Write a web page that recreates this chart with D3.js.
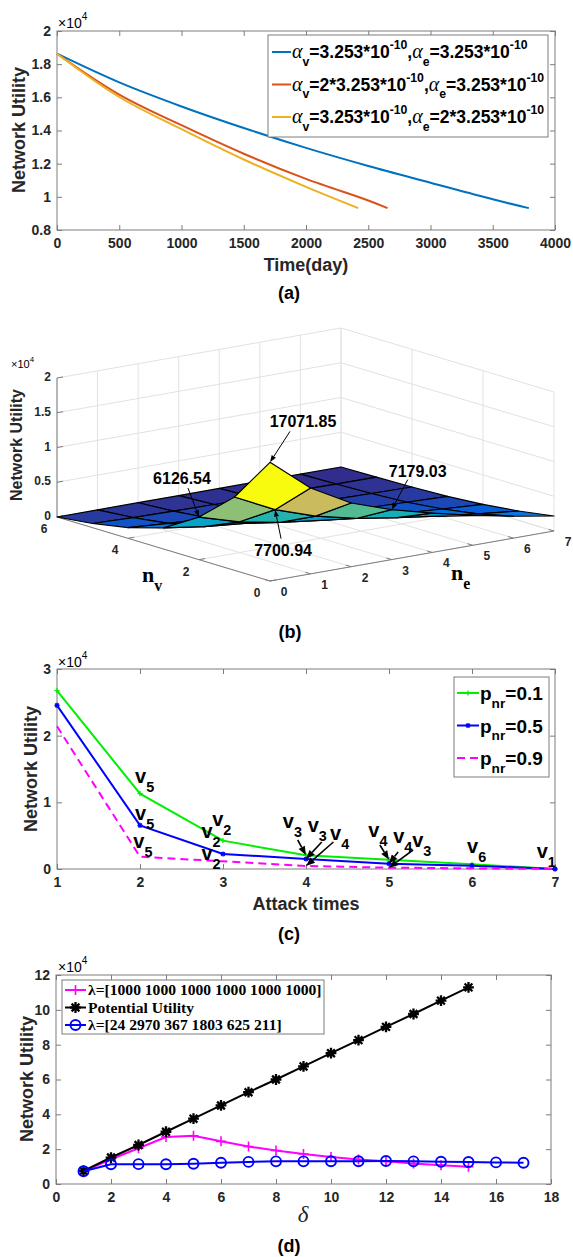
<!DOCTYPE html>
<html>
<head>
<meta charset="utf-8">
<script src="https://cdn.jsdelivr.net/npm/d3@7/dist/d3.min.js"></script>
<style>
  html, body { margin: 0; padding: 0; background: #fff; }
  svg { display: block; }
</style>
</head>
<body>
<svg id="fig" width="573" height="1257" xmlns="http://www.w3.org/2000/svg"></svg>
<script>
// ---------- (a) network utility over time ----------
const daysBlue   = [0, 500, 1000, 1500, 2000, 2500, 3000, 3500, 3790];
const utilBlue   = [18630, 16900, 15450, 14150, 12950, 11860, 10850, 9850, 9320];
const daysRed    = [0, 500, 1000, 1500, 2000, 2500, 2655];
const utilRed    = [18630, 16170, 14320, 12600, 11080, 9780, 9320];
const daysYellow = [0, 500, 1000, 1500, 2000, 2420];
const utilYellow = [18630, 16020, 14080, 12250, 10600, 9320];
const timeTicks  = [0, 500, 1000, 1500, 2000, 2500, 3000, 3500, 4000];
const utilTicksA = [8000, 10000, 12000, 14000, 16000, 18000, 20000];

// ---------- (b) utility surface over (n_v, n_e) ----------
const nvValues = [0, 1, 2, 3, 4, 5, 6];
const neValues = [0, 1, 2, 3, 4, 5, 6, 7];
const utilSurface = [
  [17071.85, 12360, 9170, 7179.03, 5650, 4300, 3150, 2160],
  [10550, 7700.94, 5750, 4380, 3470, 2650, 1950, 1340],
  [6126.54, 4420, 3300, 2560, 2000, 1520, 1120, 770],
  [3050, 2200, 1640, 1280, 1000, 760, 560, 385],
  [1550, 1120, 830, 650, 510, 385, 285, 195],
  [600, 430, 320, 250, 195, 150, 110, 75],
  [0, 0, 0, 0, 0, 0, 0, 0]
];
const nvTicks = [0, 2, 4, 6];
const neTicks = [0, 1, 2, 3, 4, 5, 6, 7];
const zTicks  = [0, 5000, 10000, 15000, 20000];
// labelled surface points: [n_v, n_e]
const surfaceCallouts = [[0, 0], [2, 0], [0, 3], [1, 1]];
const parula = ['#352a87', '#0363e1', '#1485d4', '#06a7c6', '#38b99e', '#92bf73', '#d9ba56', '#fcce2e', '#f9fb0e'];

// ---------- (c) utility versus attack times ----------
const attackTimes = [1, 2, 3, 4, 5, 6, 7];
const utilP01 = [26750, 11300, 4250, 2050, 1400, 700, 0];
const utilP05 = [24550, 6550, 2250, 1500, 800, 500, 0];
const utilP09 = [21400, 1850, 1150, 450, 200, 100, 0];
const attackTicks = [1, 2, 3, 4, 5, 6, 7];
const utilTicksC = [0, 10000, 20000, 30000];
// attacked node index written next to points
const nodeNames = ['5', '5', '5', '2', '2', '2', '3', '3', '4', '4', '4', '3', '6', '1'];

// ---------- (d) utility versus delta ----------
const deltaEqual = [1, 2, 3, 4, 5, 6, 7, 8, 9, 10, 11, 12, 13, 14, 15];
const utilEqual = [7300, 14200, 20500, 27000, 27700, 24500, 21500, 19200, 17200, 15500, 14000, 13000, 11700, 10800, 9900];
const deltaPotential = [1, 2, 3, 4, 5, 6, 7, 8, 9, 10, 11, 12, 13, 14, 15];
const utilPotential = [7500, 15200, 22400, 30000, 37500, 45100, 52700, 60000, 67500, 75100, 82600, 90200, 97600, 105300, 112900];
const deltaTuned = [1, 2, 3, 4, 5, 6, 7, 8, 9, 10, 11, 12, 13, 14, 15, 16, 17];
const utilTuned = [7300, 11300, 11400, 11300, 11600, 12200, 12700, 13000, 13000, 13100, 13100, 13200, 13000, 12800, 12600, 12400, 12200];
const deltaTicks = [0, 2, 4, 6, 8, 10, 12, 14, 16, 18];
const utilTicksD = [0, 20000, 40000, 60000, 80000, 100000, 120000];

// ================= drawing =================
const SANS = "'Liberation Sans', Arial, Helvetica, sans-serif";
const SERIF = "'Liberation Serif', 'Times New Roman', serif";
const AXIS = '#7d7d7d';
const INK = '#262626';
const svg = d3.select('#fig');
svg.append('rect').attr('width', 573).attr('height', 1257).attr('fill', '#fff');

function txt(g, x, y, s, o = {}) {
  return g.append('text').attr('x', x).attr('y', y).text(s)
    .attr('font-family', o.family || SANS).attr('font-size', o.size || 14)
    .attr('font-weight', o.weight || 'bold').attr('font-style', o.style || 'normal')
    .attr('text-anchor', o.anchor || 'middle').attr('fill', o.fill || '#000');
}

function rich(g, x, y, parts, o) {
  const size = o.size;
  const t = g.append('text').attr('x', x).attr('y', y)
    .attr('font-family', o.family || SANS).attr('font-size', size)
    .attr('font-weight', o.weight || 'bold').attr('text-anchor', o.anchor || 'start').attr('fill', '#000');
  let cur = 0;
  parts.forEach(p => {
    const sp = t.append('tspan').text(p.t);
    let off = 0, fsz = p.size || size;
    if (p.k === 'sub') { off = size * (o.subShift || 0.42); fsz = size * (o.subScale || 0.72); }
    if (p.k === 'sup') { off = -size * (o.supShift || 0.5); fsz = size * (o.subScale || 0.72); }
    sp.attr('font-size', fsz).attr('dy', off - cur);
    cur = off;
    if (p.serif) sp.attr('font-family', SERIF);
    if (p.it) sp.attr('font-style', 'italic');
    if (p.w) sp.attr('font-weight', p.w);
  });
  return t;
}

function yLabel(g, cx, cy, s, size) {
  g.append('text').attr('transform', `translate(${cx},${cy}) rotate(-90)`).attr('dy', '0.35em')
    .attr('text-anchor', 'middle').attr('font-family', SANS).attr('font-size', size)
    .attr('font-weight', 'bold').attr('fill', INK).text(s);
}

function exponent(g, x, y) {
  rich(g, x, y, [{ t: '×10' }, { t: '4', k: 'sup' }], { size: 14, weight: 'normal', supShift: 0.55 });
}

function frame(g, xs, ys, xt, yt, xfmt, yfmt, fs) {
  const [xl, xr] = xs.range();
  const [yb, ytp] = ys.range();
  const mk = (axis, tr) => {
    const a = g.append('g').attr('transform', tr).call(axis);
    a.select('.domain').remove();
    a.selectAll('.tick line').attr('stroke', AXIS);
    a.selectAll('text').attr('font-family', SANS).attr('font-size', fs)
      .attr('font-weight', 'bold').attr('fill', INK);
  };
  const blank = () => '';
  mk(d3.axisBottom(xs).tickValues(xt).tickFormat(xfmt).tickSizeInner(-5).tickSizeOuter(0).tickPadding(8), `translate(0,${yb})`);
  mk(d3.axisTop(xs).tickValues(xt).tickFormat(blank).tickSizeInner(-5).tickSizeOuter(0), `translate(0,${ytp})`);
  mk(d3.axisLeft(ys).tickValues(yt).tickFormat(yfmt).tickSizeInner(-5).tickSizeOuter(0).tickPadding(6), `translate(${xl},0)`);
  mk(d3.axisRight(ys).tickValues(yt).tickFormat(blank).tickSizeInner(-5).tickSizeOuter(0), `translate(${xr},0)`);
  g.append('rect').attr('x', xl).attr('y', ytp).attr('width', xr - xl).attr('height', yb - ytp)
    .attr('fill', 'none').attr('stroke', AXIS).attr('stroke-width', 1);
}

const plusPath = (x, y, r) => `M${x - r},${y}H${x + r}M${x},${y - r}V${y + r}`;
const crossPath = (x, y, r) => `M${x - r},${y - r}L${x + r},${y + r}M${x - r},${y + r}L${x + r},${y - r}`;
const starPath = (x, y, r) => plusPath(x, y, r) + crossPath(x, y, r * 0.72);

function arrow(g, x1, y1, x2, y2, o) {
  const ang = Math.atan2(y2 - y1, x2 - x1);
  const bx = x2 - o.len * Math.cos(ang), by = y2 - o.len * Math.sin(ang);
  g.append('line').attr('x1', x1).attr('y1', y1).attr('x2', bx).attr('y2', by)
    .attr('stroke', '#000').attr('stroke-width', o.sw);
  const px = -Math.sin(ang) * o.wid / 2, py = Math.cos(ang) * o.wid / 2;
  g.append('path').attr('d', `M${x2},${y2}L${bx + px},${by + py}L${bx - px},${by - py}Z`).attr('fill', '#000');
}

const tenths = d => String(+(d / 1e4).toFixed(1));

// ---------------- panel (a) ----------------
{
  const g = svg.append('g');
  const x = d3.scaleLinear().domain([0, 4000]).range([57, 555]);
  const y = d3.scaleLinear().domain([8000, 20000]).range([230, 31]);
  frame(g, x, y, timeTicks, utilTicksA, d => d, tenths, 14);
  const line = d3.line().curve(d3.curveCatmullRom);
  const series = [
    [daysBlue, utilBlue, '#0072bd'],
    [daysRed, utilRed, '#d95319'],
    [daysYellow, utilYellow, '#edb120']
  ];
  series.forEach(([xs, ys, c]) => {
    g.append('path').attr('d', line(xs.map((d, i) => [x(d), y(ys[i])])))
      .attr('fill', 'none').attr('stroke', c).attr('stroke-width', 2);
  });
  exponent(g, 58, 28);
  yLabel(g, 19, 130, 'Network Utility', 18);
  txt(g, 306, 271, 'Time(day)', { size: 18, fill: INK });
  txt(g, 289, 299, '(a)', { size: 18 });

  // legend
  g.append('rect').attr('x', 268).attr('y', 35).attr('width', 280).attr('height', 102)
    .attr('fill', '#fff').attr('stroke', AXIS);
  const alpha = { t: 'α', serif: true, it: true, w: 'normal', size: 20 };
  const coef = '3.253*10';
  const entries = [
    [alpha, { t: 'v', k: 'sub' }, { t: '=' + coef }, { t: '-10', k: 'sup' }, { t: ',' }, alpha, { t: 'e', k: 'sub' }, { t: '=' + coef }, { t: '-10', k: 'sup' }],
    [alpha, { t: 'v', k: 'sub' }, { t: '=2*' + coef }, { t: '-10', k: 'sup' }, { t: ',' }, alpha, { t: 'e', k: 'sub' }, { t: '=' + coef }, { t: '-10', k: 'sup' }],
    [alpha, { t: 'v', k: 'sub' }, { t: '=' + coef }, { t: '-10', k: 'sup' }, { t: ',' }, alpha, { t: 'e', k: 'sub' }, { t: '=2*' + coef }, { t: '-10', k: 'sup' }]
  ];
  entries.forEach((parts, i) => {
    const ly = 52 + i * 32.5;
    g.append('line').attr('x1', 272).attr('x2', 291).attr('y1', ly).attr('y2', ly)
      .attr('stroke', series[i][2]).attr('stroke-width', 2);
    rich(g, 292, ly + 6, parts, { size: 17.5, subShift: 0.45, supShift: 0.5, subScale: 0.7 });
  });
}

// ---------------- panel (b) ----------------
{
  const g = svg.append('g');
  const nvX = d3.scaleLinear().domain([0, 6]).range([0, -213]);
  const nvY = d3.scaleLinear().domain([0, 6]).range([0, -64]);
  const neX = d3.scaleLinear().domain([0, 7]).range([0, 284]);
  const neY = d3.scaleLinear().domain([0, 7]).range([0, -50]);
  const zY = d3.scaleLinear().domain([0, 20000]).range([0, -139]);
  const ox = 270, oy = 581;
  const proj = (v, e, z) => [ox + nvX(v) + neX(e), oy + nvY(v) + neY(e) + zY(z)];
  const seg = (a, b, stroke, w) => g.append('line').attr('x1', a[0]).attr('y1', a[1])
    .attr('x2', b[0]).attr('y2', b[1]).attr('stroke', stroke).attr('stroke-width', w);
  const vMax = nvTicks[nvTicks.length - 1], eMax = neTicks[neTicks.length - 1], zMax = zTicks[zTicks.length - 1];
  const GRID = '#e2e2e2';

  // floor and back walls
  neTicks.forEach(e => seg(proj(0, e, 0), proj(vMax, e, 0), GRID, 1));
  nvTicks.forEach(v => seg(proj(v, 0, 0), proj(v, eMax, 0), GRID, 1));
  neTicks.forEach(e => seg(proj(vMax, e, 0), proj(vMax, e, zMax), GRID, 1));
  zTicks.forEach(z => seg(proj(vMax, 0, z), proj(vMax, eMax, z), GRID, 1));
  nvTicks.forEach(v => seg(proj(v, eMax, 0), proj(v, eMax, zMax), GRID, 1));
  zTicks.forEach(z => seg(proj(0, eMax, z), proj(vMax, eMax, z), GRID, 1));

  // axis lines and ticks
  seg(proj(vMax, 0, 0), proj(vMax, 0, zMax), AXIS, 1);
  seg(proj(0, 0, 0), proj(vMax, 0, 0), AXIS, 1);
  seg(proj(0, 0, 0), proj(0, eMax, 0), AXIS, 1);
  zTicks.forEach(z => seg(proj(vMax, 0, z), proj(vMax, 0.15, z), AXIS, 1));
  nvTicks.forEach(v => seg(proj(v, 0, 0), proj(v, 0.15, 0), AXIS, 1));
  neTicks.forEach(e => seg(proj(0, e, 0), proj(0.15, e, 0), AXIS, 1));

  zTicks.forEach(z => txt(g, 51, proj(vMax, 0, z)[1] + 3, tenths(z), { anchor: 'end', size: 12, fill: INK }));
  nvTicks.forEach(v => { const p = proj(v, 0, 0); txt(g, p[0] - 13, p[1] + 16, v, { size: 12, fill: INK }); });
  neTicks.forEach(e => { const p = proj(0, e, 0); txt(g, p[0] + 14, p[1] + 15, e, { size: 12, fill: INK }); });
  rich(g, 11, 368, [{ t: '×10' }, { t: '4', k: 'sup' }], { size: 11, weight: 'normal', supShift: 0.55 });
  yLabel(g, 16, 445, 'Network Utility', 16);
  rich(g, 142, 582, [{ t: 'n' }, { t: 'v', k: 'sub' }], { size: 22, family: SERIF, subShift: 0.4, subScale: 0.72 });
  rich(g, 451, 580, [{ t: 'n' }, { t: 'e', k: 'sub' }], { size: 22, family: SERIF, subShift: 0.4, subScale: 0.72 });
  txt(g, 290, 638, '(b)', { size: 18 });

  // surface, painted back to front
  const zTop = d3.max(utilSurface.flat());
  const color = d3.scaleLinear().domain(parula.map((c, i) => zTop * i / (parula.length - 1))).range(parula);
  const faces = [];
  for (let i = 0; i < nvValues.length - 1; i++) {
    for (let j = 0; j < neValues.length - 1; j++) faces.push([i, j]);
  }
  const floorY = ([i, j]) => proj((nvValues[i] + nvValues[i + 1]) / 2, (neValues[j] + neValues[j + 1]) / 2, 0)[1];
  faces.sort((a, b) => floorY(a) - floorY(b));
  faces.forEach(([i, j]) => {
    const pts = [
      proj(nvValues[i], neValues[j], utilSurface[i][j]),
      proj(nvValues[i], neValues[j + 1], utilSurface[i][j + 1]),
      proj(nvValues[i + 1], neValues[j + 1], utilSurface[i + 1][j + 1]),
      proj(nvValues[i + 1], neValues[j], utilSurface[i + 1][j])
    ];
    g.append('path').attr('d', 'M' + pts.join('L') + 'Z')
      .attr('fill', color(utilSurface[i][j])).attr('stroke', '#000')
      .attr('stroke-width', 1.2).attr('stroke-linejoin', 'round');
  });

  // value call-outs: arrow tail offset and text offset from the marked vertex
  const calloutLayout = [
    { tail: [20, -31], text: [33, -35] },
    { tail: [-11, -29], text: [-17, -33] },
    { tail: [16, -30], text: [26, -33] },
    { tail: [6, 29], text: [8, 46] }
  ];
  surfaceCallouts.forEach(([v, e], k) => {
    const val = utilSurface[nvValues.indexOf(v)][neValues.indexOf(e)];
    const tip = proj(v, e, val);
    const L = calloutLayout[k];
    arrow(g, tip[0] + L.tail[0], tip[1] + L.tail[1], tip[0], tip[1], { len: 7, wid: 5, sw: 1 });
    txt(g, tip[0] + L.text[0], tip[1] + L.text[1], val.toFixed(2), { size: 16 });
  });
}

// ---------------- panel (c) ----------------
{
  const g = svg.append('g');
  const x = d3.scaleLinear().domain([1, 7]).range([57, 555]);
  const y = d3.scaleLinear().domain([0, 30000]).range([869, 669]);
  frame(g, x, y, attackTicks, utilTicksC, d => d, tenths, 14);
  const line = d3.line();
  const series = [
    { ys: utilP01, c: '#00ee00', mk: plusPath, dash: null },
    { ys: utilP05, c: '#0000ff', mk: starPath, dash: null },
    { ys: utilP09, c: '#ff00ff', mk: null, dash: '8,5' }
  ];
  series.forEach(s => {
    const pts = attackTimes.map((t, i) => [x(t), y(s.ys[i])]);
    g.append('path').attr('d', line(pts)).attr('fill', 'none').attr('stroke', s.c)
      .attr('stroke-width', 2).attr('stroke-dasharray', s.dash);
    if (s.mk) g.append('path').attr('d', pts.map(p => s.mk(p[0], p[1], 2.6)).join(''))
      .attr('stroke', s.c).attr('stroke-width', 1.3).attr('fill', 'none');
  });
  exponent(g, 58, 667);
  yLabel(g, 31, 769, 'Network Utility', 18);
  txt(g, 306, 910, 'Attack times', { size: 18, fill: INK });
  txt(g, 289, 940, '(c)', { size: 18 });

  // legend
  g.append('rect').attr('x', 454).attr('y', 677).attr('width', 95).attr('height', 100)
    .attr('fill', '#fff').attr('stroke', AXIS);
  ['0.1', '0.5', '0.9'].forEach((p, i) => {
    const ly = 693 + i * 32.5, s = series[i];
    g.append('line').attr('x1', 457).attr('x2', 479).attr('y1', ly).attr('y2', ly)
      .attr('stroke', s.c).attr('stroke-width', 2).attr('stroke-dasharray', s.dash);
    if (s.mk) g.append('path').attr('d', s.mk(468, ly, 2.6)).attr('stroke', s.c).attr('stroke-width', 1.3);
    rich(g, 480, ly + 7, [{ t: 'p' }, { t: 'nr', k: 'sub' }, { t: '=' + p }], { size: 19, subShift: 0.4, subScale: 0.72 });
  });

  // node names: anchor (attack time, utility); some carry an arrow to a point of a series
  const tagLayout = [
    { at: [1.94, 12900] }, { at: [1.94, 7350] }, { at: [1.92, 3150] },
    { at: [2.87, 6450] }, { at: [2.74, 4650] }, { at: [2.74, 1350] },
    { at: [3.72, 6150], tail: [3.90, 4350], to: [0, 3] },
    { at: [4.02, 5550], tail: [4.19, 4050], to: [1, 3] },
    { at: [4.29, 4350], tail: [4.33, 4050], to: [2, 3] },
    { at: [4.75, 4800], tail: [4.89, 3600], to: [0, 4] },
    { at: [5.05, 3900], tail: [5.11, 2550], to: [1, 4] },
    { at: [5.28, 3300], tail: [5.29, 2850], to: [2, 4] },
    { at: [5.94, 2400] }, { at: [6.78, 1650] }
  ];
  nodeNames.forEach((n, k) => {
    const L = tagLayout[k];
    rich(g, x(L.at[0]), y(L.at[1]), [{ t: 'v' }, { t: n, k: 'sub' }], { size: 20, subShift: 0.45, subScale: 0.72 });
    if (L.to) {
      const [si, pi] = L.to;
      arrow(g, x(L.tail[0]), y(L.tail[1]), x(attackTimes[pi]), y(series[si].ys[pi]), { len: 9, wid: 7, sw: 1.6 });
    }
  });
}

// ---------------- panel (d) ----------------
{
  const g = svg.append('g');
  const x = d3.scaleLinear().domain([0, 18]).range([56, 551]);
  const y = d3.scaleLinear().domain([0, 120000]).range([1184, 975]);
  frame(g, x, y, deltaTicks, utilTicksD, d => d, tenths, 14);
  const line = d3.line();
  const series = [
    { xs: deltaEqual, ys: utilEqual, c: '#ff00ff', mk: 'plus' },
    { xs: deltaPotential, ys: utilPotential, c: '#000000', mk: 'star' },
    { xs: deltaTuned, ys: utilTuned, c: '#0000ff', mk: 'circle' }
  ];
  const marker = (s, px, py) => {
    if (s.mk === 'circle') {
      g.append('circle').attr('cx', px).attr('cy', py).attr('r', 5)
        .attr('fill', 'none').attr('stroke', s.c).attr('stroke-width', 1.9);
    } else {
      g.append('path').attr('d', s.mk === 'plus' ? plusPath(px, py, 5) : starPath(px, py, 5.4))
        .attr('stroke', s.c).attr('stroke-width', s.mk === 'plus' ? 1.6 : 2.3).attr('fill', 'none');
    }
  };
  series.forEach(s => {
    const pts = s.xs.map((d, i) => [x(d), y(s.ys[i])]);
    g.append('path').attr('d', line(pts)).attr('fill', 'none').attr('stroke', s.c).attr('stroke-width', 2);
    pts.forEach(p => marker(s, p[0], p[1]));
  });
  exponent(g, 58, 972);
  yLabel(g, 27, 1079, 'Network Utility', 18);
  txt(g, 303, 1222, 'δ', { family: SERIF, style: 'italic', weight: 'normal', size: 23, fill: INK });
  txt(g, 289, 1252, '(d)', { size: 18 });

  // legend
  g.append('rect').attr('x', 62).attr('y', 980).attr('width', 262).attr('height', 54)
    .attr('fill', '#fff').attr('stroke', AXIS);
  const names = ['λ=[1000 1000 1000 1000 1000 1000]', 'Potential Utility', 'λ=[24 2970 367 1803 625 211]'];
  names.forEach((nm, i) => {
    const ly = 990 + i * 17.5, s = series[i];
    g.append('line').attr('x1', 65).attr('x2', 86).attr('y1', ly).attr('y2', ly)
      .attr('stroke', s.c).attr('stroke-width', 2);
    marker(s, 75.5, ly);
    txt(g, 88, ly + 5, nm, { family: SERIF, size: 15.6, anchor: 'start' });
  });
}
</script>
</body>
</html>
